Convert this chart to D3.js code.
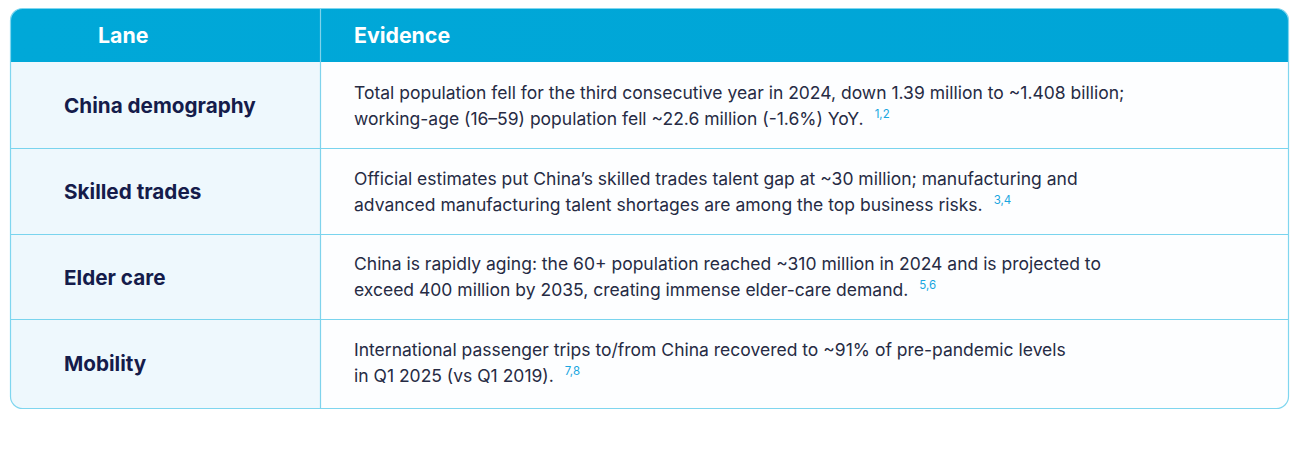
<!DOCTYPE html>
<html><head><meta charset="utf-8">
<script src="https://cdn.jsdelivr.net/npm/d3@7"></script>
<style>
html,body{margin:0;padding:0;background:#ffffff;}
svg{display:block;}
</style></head>
<body>
<svg id="c" width="1299" height="456"></svg>
<script>
const headers = ["Lane", "Evidence"];
const lanes = ["China demography", "Skilled trades", "Elder care", "Mobility"];
const evidenceLine1 = [
  "Total population fell for the third consecutive year in 2024, down 1.39 million to ~1.408 billion;",
  "Official estimates put China\u2019s skilled trades talent gap at ~30 million; manufacturing and",
  "China is rapidly aging: the 60+ population reached ~310 million in 2024 and is projected to",
  "International passenger trips to/from China recovered to ~91% of pre-pandemic levels"
];
const evidenceLine2 = [
  "working-age (16\u201359) population fell ~22.6 million (-1.6%) YoY.",
  "advanced manufacturing talent shortages are among the top business risks.",
  "exceed 400 million by 2035, creating immense elder-care demand.",
  "in Q1 2025 (vs Q1 2019)."
];
const refs = ["1,2", "3,4", "5,6", "7,8"];

const FONT = "Inter, Lato, sans-serif";
const svg = d3.select("#c");
const L = 10.5, R = 1288.5, T = 8.5, B = 408.5, HB = 62, DIV = 320, RAD = 12;

const y = d3.scaleBand().domain(lanes).range([HB, 405]);

const defs = svg.append("defs");
defs.append("clipPath").attr("id", "clip")
  .append("rect").attr("x", L).attr("y", T).attr("width", R - L).attr("height", B - T).attr("rx", RAD);
const grad = defs.append("linearGradient").attr("id", "hg").attr("x1", 0).attr("x2", 1);
grad.append("stop").attr("offset", 0).attr("stop-color", "#00a8d8");
grad.append("stop").attr("offset", 1).attr("stop-color", "#00a5d7");

const g = svg.append("g").attr("clip-path", "url(#clip)");
g.append("rect").attr("x", L).attr("y", T).attr("width", R - L).attr("height", B - T).attr("fill", "#fdfeff");
g.append("rect").attr("x", L).attr("y", HB).attr("width", DIV - L).attr("height", B - HB).attr("fill", "#eef8fd");
g.append("rect").attr("x", L).attr("y", T).attr("width", R - L).attr("height", HB - T).attr("fill", "url(#hg)");

g.selectAll("line.row").data(lanes.slice(1)).join("line").attr("class", "row")
  .attr("x1", L).attr("x2", R)
  .attr("y1", d => Math.round(y(d)) + 0.5).attr("y2", d => Math.round(y(d)) + 0.5)
  .attr("stroke", "#79d4ee").attr("stroke-width", 1.2);
g.append("line").attr("x1", DIV + 0.5).attr("x2", DIV + 0.5).attr("y1", T).attr("y2", B)
  .attr("stroke", "#7fd3ec").attr("stroke-width", 1.2);
svg.append("rect").attr("x", L).attr("y", T).attr("width", R - L).attr("height", B - T).attr("rx", RAD)
  .attr("fill", "none").attr("stroke", "#7fd6ef").attr("stroke-width", 1.2);

const hx = [98, 354];
svg.selectAll("text.h").data(headers).join("text").attr("class", "h")
  .attr("x", (d, i) => hx[i]).attr("y", 43)
  .attr("font-family", FONT).attr("font-weight", 700).attr("font-size", 21.3)
  .attr("fill", "#ffffff").text(d => d);

svg.selectAll("text.lane").data(lanes).join("text").attr("class", "lane")
  .attr("x", 64).attr("y", d => y(d) + y.bandwidth() / 2 + 8.5)
  .attr("font-family", FONT).attr("font-weight", 700).attr("font-size", 20.7)
  .attr("fill", "#151c4b").text(d => d);

const ev = svg.selectAll("g.ev").data(lanes).join("g").attr("class", "ev")
  .attr("transform", d => `translate(354,${y(d) + y.bandwidth() / 2})`);
ev.append("text").attr("y", -6)
  .attr("font-family", FONT).attr("font-size", 17.5).attr("fill", "#262b44")
  .text((d, i) => evidenceLine1[i]);
const t2 = ev.append("text").attr("y", 20)
  .attr("font-family", FONT).attr("font-size", 17.5).attr("fill", "#262b44");
t2.append("tspan").text((d, i) => evidenceLine2[i]);
t2.append("tspan").attr("dx", 11).attr("dy", -7).attr("font-size", 11.5)
  .attr("fill", "#19a6e0").text((d, i) => refs[i]);
</script>
</body></html>
